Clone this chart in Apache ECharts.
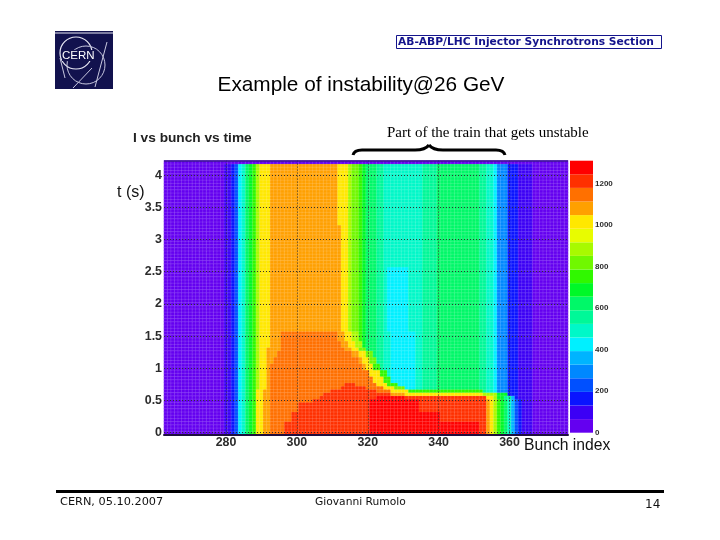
<!DOCTYPE html>
<html><head><meta charset="utf-8">
<style>html,body{margin:0;padding:0;background:#fff}#c{width:720px;height:540px}</style>
<script src="https://cdn.jsdelivr.net/npm/echarts@6/dist/echarts.min.js"></script>
</head><body><div id="c"></div>
<script>
// ---- data ----
const bunchFirst = 263, bunchLast = 376;
const xTickLabels = ['280','300','320','340','360'];
const xMinorTicks = [264,268,272,276,284,288,292,296,304,308,312,316,324,328,332,336,344,348,352,356,364,368,372,376];
const yTickLabels = ['0','0.5','1','1.5','2','2.5','3','3.5','4'];
const zTickLabels = [0,200,400,600,800,1000,1200];
const zMax = 1311;
const levelWidth = 65.55;
const palette = ['#6400f0','#3c00f5','#0a14ff','#0050ff','#0088ff','#00b4ff','#00f0ff','#00f8c8','#00f898','#00f868',
                 '#00f828','#30f800','#70f800','#a8fa00','#e8fc00','#ffe800','#ffa000','#ff7000','#ff3000','#ff0000'];
// stable train profile: [first bunch, last bunch, colour level]
const stableProfile = [[263,279,0],[280,281,1],[282,282,2],[283,283,3],[284,284,6],[285,285,7],[286,286,9],[287,287,10],
  [288,288,11],[289,289,13],[290,292,15],[293,312,16],[313,314,15],[315,315,13],[316,317,12],[318,318,11],[319,319,10],
  [320,322,9],[323,324,8],[325,325,7],[326,331,6],[332,335,7],[336,339,8],[340,351,9],[352,353,8],[354,355,7],[356,356,6],
  [357,359,4],[360,362,2],[363,366,1],[367,376,0]];
const tailLow = [[354,354,16],[355,355,15],[356,356,13],[357,357,11],[358,358,10],[359,359,9],[360,360,7],[361,361,5],[362,362,3],[363,363,2],[364,366,1]];
const leftLow = [[289,290,15],[291,292,16]];
const leftMid = [[290,291,15],[292,292,16]];
const midCyan = [[326,326,7],[327,333,6]];
// changes against the stable profile, by the time they start at: [t from, runs]
const timeBands = [
 [0.00,[...leftLow,[293,296,17],[297,320,18],[321,351,19],[352,353,18],...tailLow]],
 [0.20,[...leftLow,[293,298,17],[299,320,18],[321,340,19],[341,353,18],...tailLow]],
 [0.35,[...leftLow,[293,300,17],[301,320,18],[321,334,19],[335,353,18],...tailLow]],
 [0.50,[...leftLow,[293,304,17],[305,320,18],[321,334,19],[335,353,18],...tailLow]],
 [0.55,[...leftLow,[293,306,17],[307,322,18],[323,330,19],[331,353,18],[354,355,15],[356,356,13],[357,358,10],[359,360,8],[361,361,5]]],
 [0.60,[...leftLow,[293,307,17],[308,326,18],[327,330,16],[331,352,15],[353,356,13],[357,359,10]]],
 [0.65,[...midCyan,...leftLow,[293,309,17],[310,322,18],[323,326,17],[327,331,15],[332,352,11]]],
 [0.70,[...midCyan,...leftMid,[293,312,17],[313,319,18],[320,324,17],[325,327,15],[328,330,12]]],
 [0.75,[...midCyan,...leftMid,[293,313,17],[314,316,18],[317,322,17],[323,325,15],[326,328,11]]],
 [0.80,[...midCyan,...leftMid,[293,321,17],[322,324,15],[325,326,11]]],
 [0.90,[...midCyan,...leftMid,[293,320,17],[321,323,15],[324,325,11]]],
 [1.00,[...midCyan,...leftMid,[293,318,17],[319,319,16],[320,321,15],[322,323,11]]],
 [1.10,[...midCyan,...leftMid,[293,293,16],[294,317,17],[318,318,16],[319,320,15],[321,322,12]]],
 [1.20,[...midCyan,...leftMid,[293,294,16],[295,315,17],[316,317,16],[318,319,15],[320,321,12]]],
 [1.30,[...midCyan,...leftMid,[293,295,16],[296,313,17],[314,315,16],[316,317,15],[318,319,12]]],
 [1.35,[...midCyan,[296,312,17],[313,314,16],[315,316,15],[317,318,13]]],
 [1.45,[...midCyan,[296,311,17],[312,313,16],[314,315,15],[316,317,13]]],
 [1.60,[]],
 [2.60,[[326,331,7]]],
 [3.25,[[312,312,15],[326,331,7]]],
 [4.20,[[263,376,0]]]
];
// ---- build the cells ----
const bunches = [];
for (let b = bunchFirst; b <= bunchLast; b++) bunches.push(String(b));
const times = [];
for (let i = 0; i <= 84; i++) times.push(String(+(i * 0.05).toFixed(2)));
const cells = [];
times.forEach((t, yi) => {
  const band = timeBands.filter(r => r[0] <= +t + 1e-6).pop();
  const levels = {};
  stableProfile.concat(band[1]).forEach(r => { for (let b = r[0]; b <= r[1]; b++) levels[b] = r[2]; });
  bunches.forEach((b, xi) => cells.push([xi, yi, (levels[b] + 0.5) * levelWidth]));
});
const pieces = palette.map((c, i) => ({ min: i * levelWidth, max: (i + 1) * levelWidth, color: c }));
const barSeries = palette.map((c, i) => ({
  type: 'bar', xAxisIndex: 2, yAxisIndex: 2, stack: 'z', data: [levelWidth], barWidth: '100%',
  itemStyle: { color: c }, silent: true, animation: false
}));
const axisFont = { fontFamily: 'Liberation Sans', fontWeight: 'bold', color: '#2c2c2c' };
const slideText = (x, y, text, font, fill, align) => ({
  type: 'text', x, y, silent: true, z: 20,
  style: { text, font, fill, textAlign: align || 'left', textVerticalAlign: 'middle' }
});
const seg = (x1, y1, x2, y2, stroke, lineWidth, z) => ({ type: 'line', silent: true, z: z || 10, shape: { x1, y1, x2, y2 }, style: { stroke, lineWidth } });
const curve = (x1, y1, cpx1, cpy1, cpx2, cpy2, x2, y2) => ({ type: 'bezierCurve', silent: true, z: 20,
  shape: { x1, y1, cpx1, cpy1, cpx2, cpy2, x2, y2 }, style: { fill: 'none', stroke: '#000', lineWidth: 3 } });
const grid0 = { left: 164, top: 160.6, width: 404, height: 273.7 };
const chart = echarts.init(document.getElementById('c'), null, { renderer: 'canvas' });
chart.setOption({
  animation: false,
  backgroundColor: '#fff',
  grid: [grid0, { left: 570, top: 160.7, width: 23, height: 272 }],
  visualMap: { show: false, type: 'piecewise', seriesIndex: 0, pieces },
  xAxis: [
    { type: 'category', gridIndex: 0, data: bunches, position: 'bottom', z: 5,
      axisLine: { lineStyle: { color: '#201040', width: 2 } },
      axisTick: { inside: true, length: 9, alignWithLabel: true, lineStyle: { color: '#111' }, interval: (i, v) => xTickLabels.includes(v) },
      axisLabel: { ...axisFont, fontSize: 12.4, margin: 2, interval: (i, v) => xTickLabels.includes(v) },
      splitLine: { show: true, alignWithLabel: true, interval: (i, v) => xTickLabels.includes(v), lineStyle: { color: '#333', type: [1, 2], width: 1 } } },
    { type: 'category', gridIndex: 0, data: bunches, position: 'bottom', z: 5,
      axisLine: { show: false }, axisLabel: { show: false }, splitLine: { show: false },
      axisTick: { inside: true, length: 4, alignWithLabel: true, lineStyle: { color: '#222' }, interval: (i, v) => xMinorTicks.includes(+v) } },
    { type: 'category', gridIndex: 1, data: ['z'], show: false }
  ],
  yAxis: [
    { type: 'category', gridIndex: 0, data: times, position: 'left', z: 5,
      axisLine: { show: false },
      axisTick: { inside: true, length: 10, alignWithLabel: true, lineStyle: { color: '#111' }, interval: (i, v) => yTickLabels.includes(v) },
      axisLabel: { ...axisFont, fontSize: 12.4, margin: 2, interval: (i, v) => yTickLabels.includes(v) },
      splitLine: { show: true, alignWithLabel: true, interval: (i, v) => yTickLabels.includes(v), lineStyle: { color: '#333', type: [1, 2], width: 1 } } },
    { type: 'category', gridIndex: 0, data: times, position: 'left', z: 5,
      axisLine: { show: false }, axisLabel: { show: false }, splitLine: { show: false },
      axisTick: { inside: true, length: 4, alignWithLabel: true, lineStyle: { color: '#222' }, interval: (i) => i % 2 === 0 } },
    { type: 'value', gridIndex: 1, min: 0, max: zMax, position: 'right', z: 5,
      axisLine: { show: false }, splitLine: { show: false },
      axisTick: { inside: true, length: 11, lineStyle: { color: '#222' }, customValues: zTickLabels },
      axisLabel: { ...axisFont, fontSize: 8, margin: 2, customValues: zTickLabels, formatter: v => String(v) } }
  ],
  series: [
    { type: 'heatmap', xAxisIndex: 0, yAxisIndex: 0, data: cells, progressive: 0, silent: true, animation: false,
      itemStyle: { borderColor: 'rgba(255,255,255,0.12)', borderWidth: 1 }, emphasis: { disabled: true } },
    ...barSeries
  ],
  graphic: [
    { type: 'rect', silent: true, shape: { x: 55, y: 31, width: 58, height: 58 }, style: { fill: '#12124e' } },
    seg(55, 33, 113, 33, '#e8e8f4', 1),
    { type: 'circle', silent: true, z: 10, shape: { cx: 76, cy: 53, r: 16 }, style: { fill: 'none', stroke: '#e8e8f4', lineWidth: 1.2 } },
    { type: 'circle', silent: true, z: 10, shape: { cx: 86, cy: 65, r: 19 }, style: { fill: 'none', stroke: '#c8c8e0', lineWidth: 1 } },
    seg(60, 58, 65, 78, '#c8c8e0', 1),
    seg(107, 42, 95, 87, '#c8c8e0', 1),
    seg(73, 88, 92, 68, '#c8c8e0', 1),
    { type: 'rect', silent: true, z: 11, shape: { x: 62, y: 50, width: 31, height: 11 }, style: { fill: '#12124e' } },
    slideText(62, 55.5, 'CERN', '11.5px "Liberation Sans"', '#fff'),
    { type: 'rect', silent: true, shape: { x: 396.5, y: 35.5, width: 265, height: 13 }, style: { fill: '#fff', stroke: '#14148c', lineWidth: 1 } },
    slideText(398, 42, 'AB-ABP/LHC Injector Synchrotrons Section', 'bold 10.7px "DejaVu Sans"', '#14148c'),
    slideText(361, 85, 'Example of instability@26 GeV', '20.8px "Liberation Sans"', '#000', 'center'),
    slideText(133, 138, 'I vs bunch vs time', 'bold 13.7px "Liberation Sans"', '#222'),
    slideText(387, 133, 'Part of the train that gets unstable', '15px "Liberation Serif"', '#000'),
    curve(353, 155, 354, 151, 357, 150, 362, 150),
    seg(362, 150, 415, 150, '#000', 3, 20),
    curve(415, 150, 422, 150, 426, 149, 429, 145),
    curve(429, 145, 432, 149, 436, 150, 443, 150),
    seg(443, 150, 496, 150, '#000', 3, 20),
    curve(496, 150, 501, 150, 504, 151, 505, 155),
    seg(164, 161, 568, 161, '#3c1a90', 1.5, 10),
    slideText(117, 193, 't (s)', '16px "Liberation Sans"', '#111'),
    slideText(524, 446, 'Bunch index', '15.7px "Liberation Sans"', '#111'),
    seg(56, 491.5, 664, 491.5, '#000', 3),
    slideText(60, 502, 'CERN, 05.10.2007', '11.3px "DejaVu Sans"', '#111'),
    slideText(315, 502, 'Giovanni Rumolo', '10.7px "DejaVu Sans"', '#111'),
    slideText(645, 505, '14', '12px "DejaVu Sans"', '#111')
  ]
});
</script></body></html>
